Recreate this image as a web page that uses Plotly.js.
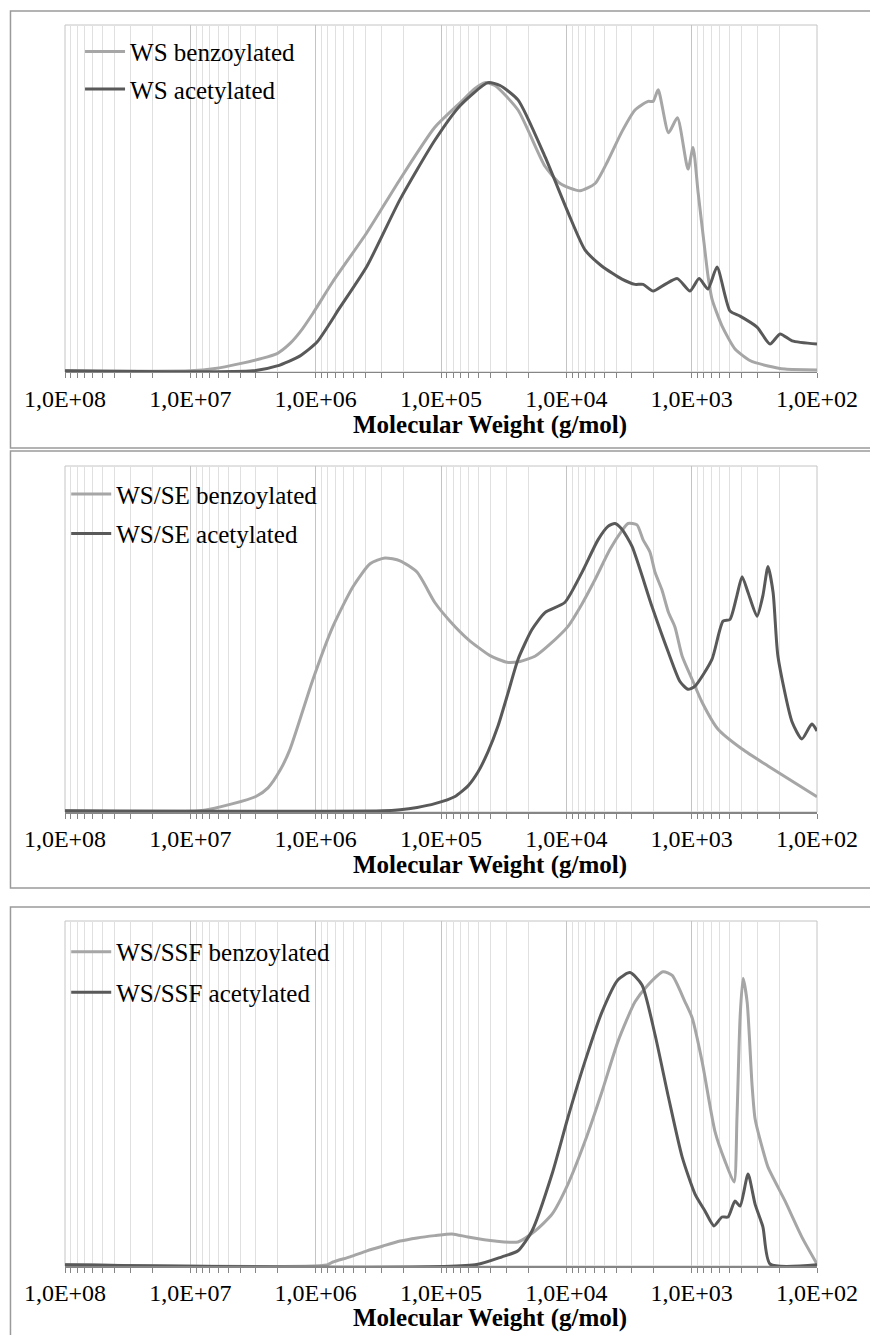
<!DOCTYPE html>
<html>
<head>
<meta charset="utf-8">
<script src="https://cdn.plot.ly/plotly-3.0.1.min.js"></script>
<style>
  html, body { margin: 0; padding: 0; background: #fff; }
  #chart { width: 870px; height: 1335px; }
</style>
</head>
<body>
<div id="chart"></div>
<script>
// ---------- DATA (molecular weight in g/mol, normalised detector response) ----------
const tickValues = [1e8, 1e7, 1e6, 1e5, 1e4, 1e3, 1e2];
const tickLabels = ["1,0E+08", "1,0E+07", "1,0E+06", "1,0E+05", "1,0E+04", "1,0E+03", "1,0E+02"];
const axisTitle = "Molecular Weight (g/mol)";

// Panel 1 : WS
const ws_benz_name = "WS benzoylated";
const ws_benz_M = [1e8, 1.0e7, 6.35e6, 4.02e6, 2.75e6, 2.03e6, 1.60e6, 1.33e6, 1.05e6, 7.28e5, 3.9e5, 2.12e5, 1.12e5, 7.05e4, 5.35e4, 4.46e4, 3.71e4, 2.43e4, 1.48e4, 1.12e4, 7.78e3, 5.9e3, 4.65e3, 3.6e3, 2.83e3, 2.23e3, 2.03e3, 1.85e3, 1.53e3, 1.30e3, 1.07e3, 975, 889, 800, 741, 689, 573, 451, 340, 246, 180, 100];
const ws_benz_y = [0, 0, 0.008, 0.025, 0.042, 0.06, 0.095, 0.135, 0.2, 0.31, 0.48, 0.665, 0.845, 0.93, 0.98, 1.0, 0.99, 0.905, 0.71, 0.65, 0.625, 0.65, 0.73, 0.83, 0.905, 0.935, 0.935, 0.975, 0.826, 0.878, 0.70, 0.775, 0.62, 0.45, 0.33, 0.25, 0.156, 0.076, 0.035, 0.017, 0.006, 0.003];
const ws_acet_name = "WS acetylated";
const ws_acet_M = [1e8, 3.16e6, 2.03e6, 1.33e6, 9.75e5, 6.4e5, 3.9e5, 2.12e5, 1.12e5, 7.05e4, 4.22e4, 3.38e4, 2.43e4, 1.48e4, 9.7e3, 7.1e3, 5.19e3, 3.6e3, 2.83e3, 2.44e3, 2.03e3, 1.63e3, 1.30e3, 1.03e3, 873, 741, 628, 495, 411, 301, 237, 197, 158, 100];
const ws_acet_y = [0, 0, 0.017, 0.052, 0.10, 0.22, 0.363, 0.595, 0.80, 0.92, 1.0, 0.99, 0.94, 0.743, 0.55, 0.42, 0.363, 0.318, 0.30, 0.30, 0.277, 0.30, 0.32, 0.277, 0.32, 0.284, 0.36, 0.208, 0.19, 0.152, 0.093, 0.128, 0.104, 0.093];

// Panel 2 : WS/SE
const se_benz_name = "WS/SE benzoylated";
const se_benz_M = [1e8, 8.37e6, 4.57e6, 3.0e6, 2.40e6, 1.93e6, 1.60e6, 1.05e6, 7.28e5, 5.04e5, 3.68e5, 2.80e5, 2.12e5, 1.55e5, 1.12e5, 8.47e4, 6.08e4, 4.06e4, 2.97e4, 2.34e4, 1.78e4, 1.35e4, 9.7e3, 7.5e3, 5.9e3, 4.48e3, 3.6e3, 3.22e3, 2.73e3, 2.44e3, 2.15e3, 1.96e3, 1.73e3, 1.53e3, 1.36e3, 1.19e3, 993, 826, 616, 396, 246, 100];
const se_benz_y = [0, 0, 0.025, 0.05, 0.08, 0.14, 0.215, 0.458, 0.642, 0.78, 0.86, 0.88, 0.87, 0.83, 0.725, 0.66, 0.597, 0.54, 0.517, 0.52, 0.538, 0.58, 0.642, 0.72, 0.805, 0.91, 0.975, 1.0, 0.995, 0.943, 0.90, 0.83, 0.77, 0.69, 0.64, 0.538, 0.458, 0.378, 0.284, 0.215, 0.156, 0.049];
const se_acet_name = "WS/SE acetylated";
const se_acet_M = [1e8, 2.9e5, 2.12e5, 1.55e5, 1.12e5, 7.73e4, 6.08e4, 5.07e4, 4.22e4, 3.51e4, 2.92e4, 2.43e4, 1.88e4, 1.48e4, 1.03e4, 7.5e3, 5.59e3, 4.65e3, 4.09e3, 3.6e3, 2.99e3, 2.07e3, 1.53e3, 1.24e3, 1.07e3, 940, 689, 562, 495, 435, 396, 355, 301, 270, 246, 224, 205, 158, 132, 110, 100];
const se_acet_y = [0, 0, 0.004, 0.012, 0.025, 0.05, 0.087, 0.135, 0.205, 0.295, 0.41, 0.527, 0.631, 0.69, 0.725, 0.83, 0.943, 0.99, 1.0, 0.98, 0.92, 0.71, 0.55, 0.45, 0.423, 0.434, 0.527, 0.66, 0.666, 0.75, 0.815, 0.76, 0.677, 0.75, 0.85, 0.76, 0.538, 0.309, 0.25, 0.302, 0.278];

// Panel 3 : WS/SSF
const ssf_benz_name = "WS/SSF benzoylated";
const ssf_benz_M = [1e8, 8.11e5, 7.28e5, 5.32e5, 3.9e5, 2.9e5, 2.12e5, 1.55e5, 1.12e5, 8.17e4, 6.08e4, 3.71e4, 2.43e4, 1.78e4, 1.30e4, 9.7e3, 7.1e3, 5.19e3, 3.87e3, 2.83e3, 2.23e3, 1.69e3, 1.43e3, 1.13e3, 993, 826, 652, 542, 459, 435, 411, 389, 361, 330, 312, 270, 246, 180, 132, 100];
const ssf_benz_y = [0, 0, 0.01, 0.028, 0.049, 0.066, 0.083, 0.094, 0.102, 0.108, 0.097, 0.083, 0.08, 0.118, 0.177, 0.282, 0.431, 0.605, 0.78, 0.918, 0.977, 1.023, 1.01, 0.918, 0.863, 0.71, 0.466, 0.362, 0.289, 0.515, 0.863, 1.0, 0.918, 0.63, 0.51, 0.40, 0.341, 0.223, 0.097, 0.003];
const ssf_acet_name = "WS/SSF acetylated";
const ssf_acet_M = [1e8, 5.35e4, 3.26e4, 2.43e4, 1.88e4, 1.30e4, 9.7e3, 7.1e3, 5.19e3, 3.87e3, 3.11e3, 2.49e3, 1.96e3, 1.53e3, 1.19e3, 940, 783, 664, 573, 513, 451, 411, 355, 312, 270, 237, 100];
const ssf_acet_y = [0, 0, 0.028, 0.049, 0.118, 0.317, 0.515, 0.71, 0.883, 0.995, 1.02, 0.977, 0.803, 0.584, 0.376, 0.247, 0.188, 0.136, 0.167, 0.167, 0.223, 0.205, 0.317, 0.212, 0.132, 0.003, 0];

// ---------- STYLE ----------
const BENZ = "#a6a6a6";
const ACET = "#595959";
const SERIF = "Liberation Serif, Times New Roman, serif";

function line(M, y, name, color, ax, lg) {
  return {
    type: "scatter", mode: "lines", x: M, y: y, name: name,
    xaxis: "x" + ax, yaxis: "y" + ax, legend: lg, legendgroup: name,
    line: { color: color, width: 3, shape: "spline", smoothing: 0.6 },
    hoverinfo: "skip"
  };
}

const data = [
  line(ws_benz_M, ws_benz_y, ws_benz_name, BENZ, "", "legend"),
  line(ws_acet_M, ws_acet_y, ws_acet_name, ACET, "", "legend"),
  line(se_benz_M, se_benz_y, se_benz_name, BENZ, "2", "legend2"),
  line(se_acet_M, se_acet_y, se_acet_name, ACET, "2", "legend2"),
  line(ssf_benz_M, ssf_benz_y, ssf_benz_name, BENZ, "3", "legend3"),
  line(ssf_acet_M, ssf_acet_y, ssf_acet_name, ACET, "3", "legend3")
];

const minorVals = [];
for (let e = 2; e < 8; e++) for (let k = 2; k <= 9; k++) minorVals.push(k * Math.pow(10, e));

function xax(anchor) {
  return {
    type: "log", range: [8, 2], anchor: anchor,
    tickmode: "array", tickvals: tickValues, ticktext: tickLabels,
    ticks: "outside", ticklen: 5, tickwidth: 1, tickcolor: "#868686",
    showgrid: true, gridcolor: "#c4c4c4", gridwidth: 1,
    minor: { tickmode: "array", tickvals: minorVals, ticks: "outside", ticklen: 5, tickwidth: 1, tickcolor: "#868686", showgrid: true, gridcolor: "#e0e0e0", gridwidth: 1 },
    showline: true, linecolor: "#868686", linewidth: 1.5,
    zeroline: false,
    ticklabelstandoff: 0,
    tickfont: { family: SERIF, size: 24, color: "#000" },
    fixedrange: true
  };
}
function yax(domain, anchor) {
  return {
    domain: domain, anchor: anchor, range: [-0.004, 1.2],
    showticklabels: false, showgrid: false, zeroline: false, showline: false, ticks: "",
    fixedrange: true
  };
}
function legendAt(x, y, gap) {
  return {
    x: x, y: y, xanchor: "left", yanchor: "top",
    bgcolor: "rgba(0,0,0,0)", borderwidth: 0,
    font: { family: SERIF, size: 25, color: "#000" },
    tracegroupgap: gap, itemwidth: 40
  };
}
function frame(y0, y1) {
  return { type: "rect", xref: "paper", yref: "paper", x0: -0.0725, x1: 1.1, y0: y0, y1: y1,
           line: { color: "#9a9a9a", width: 1.5 }, fillcolor: "rgba(0,0,0,0)", layer: "below" };
}
function plotBox(ax) {
  return { type: "rect", xref: "x" + ax + " domain", yref: "y" + ax + " domain", x0: 0, x1: 1, y0: 0, y1: 1,
           line: { color: "#c4c4c4", width: 1 }, fillcolor: "rgba(0,0,0,0)", layer: "below" };
}
function xtitle(y) {
  return { xref: "paper", yref: "paper", x: 0.565, y: y, xanchor: "center", yanchor: "middle",
           showarrow: false, text: "<b>" + axisTitle + "</b>",
           font: { family: SERIF, size: 25, color: "#000" } };
}

const layout = {
  width: 870, height: 1335,
  margin: { l: 65, r: 53, t: 25, b: 69 },
  paper_bgcolor: "#ffffff", plot_bgcolor: "rgba(0,0,0,0)",
  showlegend: true,
  xaxis: xax("y"), xaxis2: xax("y2"), xaxis3: xax("y3"),
  yaxis: yax([0.72039, 1.0], "x"),
  yaxis2: yax([0.36583, 0.64464], "x2"),
  yaxis3: yax([0.0, 0.27800], "x3"),
  legend: legendAt(0.020, 0.997, 2),
  legend2: legendAt(0.0016, 0.6404, 4),
  legend3: legendAt(0.0016, 0.2716, 5),
  shapes: [
    frame(0.65915, 1.01128), frame(0.30459, 0.65673), frame(-0.0637, 0.28928),
    plotBox(""), plotBox("2"), plotBox("3")
  ],
  annotations: [xtitle(0.6777), xtitle(0.3231), xtitle(-0.0419)]
};

Plotly.newPlot("chart", data, layout, { staticPlot: true, displayModeBar: false });
</script>
</body>
</html>
